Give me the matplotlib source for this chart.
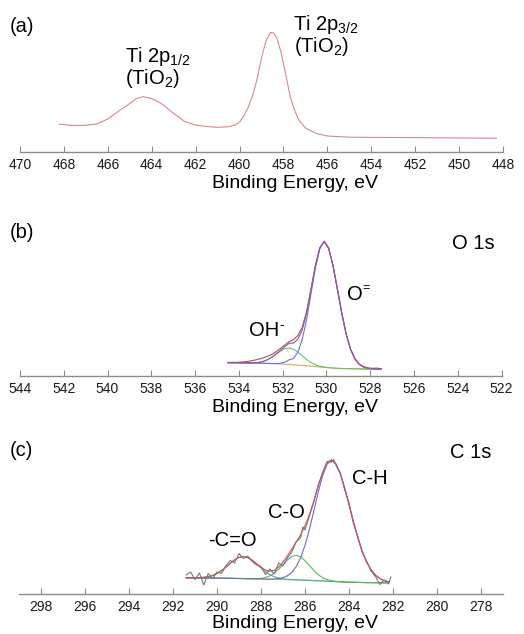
import matplotlib
matplotlib.use("Agg")
import matplotlib.pyplot as plt

W, H = 524, 634

# (a) Ti 2p survey, binding energy (eV) and intensity (arb.)
TI_BE = [468.2, 467.5, 467.0, 466.5, 466.0, 465.5, 465.0, 464.7, 464.4, 464.1,
         463.8, 463.5, 463.0, 462.5, 462.0, 461.5, 461.0, 460.5, 460.2, 460.0,
         459.8, 459.6, 459.4, 459.2, 459.0, 458.8, 458.6, 458.45, 458.3, 458.1,
         457.9, 457.7, 457.5, 457.3, 457.0, 456.5, 456.0, 455.0, 454.0, 452.0,
         450.0, 448.3]
TI_COUNTS = [27.7, 26.5, 26.8, 28.0, 33.0, 41.0, 48.5, 53.5, 55.3, 54.0,
             51.5, 47.5, 38.5, 30.5, 27.0, 25.5, 24.7, 25.3, 27.0, 30.0,
             36.0, 45.0, 57.0, 73.0, 94.0, 111.0, 119.5, 119.0, 114.0, 99.0,
             78.0, 56.0, 42.0, 32.0, 24.0, 18.5, 16.0, 14.8, 14.6, 14.4,
             14.0, 13.8]

# (b) O 1s
O_BE = [534.5, 534.3, 534.1, 533.9, 533.7, 533.5, 533.3, 533.1, 532.9, 532.7,
        532.5, 532.3, 532.1, 531.9, 531.7, 531.5, 531.3, 531.1, 530.9, 530.7,
        530.5, 530.3, 530.1, 529.9, 529.7, 529.5, 529.3, 529.1, 528.9, 528.7,
        528.5, 528.3, 528.1, 527.9, 527.7, 527.5]
O_BG = [13.3, 13.3, 13.2, 13.2, 13.1, 13.0, 12.9, 12.8, 12.7, 12.6,
        12.4, 12.2, 12.0, 11.8, 11.5, 11.2, 10.9, 10.6, 10.2, 9.8,
        9.4, 9.0, 8.6, 8.3, 8.0, 7.7, 7.5, 7.4, 7.3, 7.2,
        7.1, 7.0, 7.0, 7.0, 6.9, 6.9]
O_OH = [13.3, 13.3, 13.2, 13.2, 13.1, 13.1, 13.2, 13.6, 14.5, 16.2,
        18.6, 21.7, 24.9, 27.3, 28.0, 26.7, 23.8, 20.1, 16.4, 13.4,
        11.2, 9.8, 8.9, 8.4, 8.0, 7.7, 7.5, 7.4, 7.3, 7.2,
        7.1, 7.0, 7.0, 7.0, 6.9, 6.9]
O_OX = [13.3, 13.3, 13.2, 13.2, 13.1, 13.0, 12.9, 12.8, 12.7, 12.6,
        12.5, 12.5, 12.7, 13.8, 16.2, 17.5, 24.0, 37.0, 57.0, 83.0,
        108.5, 127.5, 134.6, 128.0, 110.6, 87.1, 62.9, 42.3, 27.1, 17.4,
        11.8, 9.0, 7.7, 7.3, 7.0, 6.9]
O_FIT = [13.3, 13.3, 13.2, 13.2, 13.1, 13.1, 13.2, 13.6, 14.5, 16.2,
         18.7, 22.0, 25.6, 29.3, 32.7, 33.0, 36.9, 46.5, 63.2, 86.6,
         110.3, 128.3, 134.9, 128.1, 110.6, 87.1, 62.9, 42.3, 27.1, 17.4,
         11.8, 9.0, 7.7, 7.3, 7.0, 6.9]
O_RAW = [13.5, 13.7, 13.6, 14.0, 14.3, 14.9, 15.8, 16.8, 18.0, 19.6,
         21.5, 24.3, 27.6, 31.0, 34.4, 36.5, 40.5, 49.0, 65.0, 87.5,
         111.0, 128.0, 134.3, 127.6, 110.2, 87.6, 63.4, 42.0, 26.6, 17.0,
         11.6, 9.3, 8.0, 7.7, 7.9, 7.4]

# (c) C 1s
C_BE = [291.4, 291.2, 291.0, 290.8, 290.6, 290.4, 290.2, 290.0, 289.8, 289.6,
        289.4, 289.2, 289.0, 288.8, 288.6, 288.4, 288.2, 288.0, 287.8, 287.6,
        287.4, 287.2, 287.0, 286.8, 286.6, 286.4, 286.2, 286.0, 285.8, 285.6,
        285.4, 285.2, 285.0, 284.8, 284.6, 284.4, 284.2, 284.0, 283.8, 283.6,
        283.4, 283.2, 283.0, 282.8, 282.6, 282.4, 282.2]
C_BG = [16.2, 16.2, 16.1, 16.1, 16.0, 16.0, 15.9, 15.9, 15.8, 15.8,
        15.7, 15.6, 15.5, 15.4, 15.3, 15.2, 15.1, 15.0, 14.9, 14.8,
        14.7, 14.6, 14.5, 14.4, 14.3, 14.2, 14.0, 13.8, 13.6, 13.4,
        13.2, 13.0, 12.8, 12.6, 12.4, 12.2, 12.0, 11.8, 11.7, 11.6,
        11.5, 11.4, 11.4, 11.3, 11.3, 11.2, 11.2]
C_COOH = [16.2, 16.2, 16.2, 16.4, 16.7, 17.4, 18.5, 20.5, 23.3, 26.8,
          30.6, 34.1, 36.6, 37.4, 36.4, 33.7, 30.0, 26.0, 22.4, 19.4,
          17.3, 16.0, 15.2, 14.7, 14.4, 14.2, 14.0, 13.8, 13.6, 13.4,
          13.2, 13.0, 12.8, 12.6, 12.4, 12.2, 12.0, 11.8, 11.7, 11.6,
          11.5, 11.4, 11.4, 11.3, 11.3, 11.2, 11.2]
C_CO = [16.2, 16.2, 16.1, 16.1, 16.0, 16.0, 15.9, 15.9, 15.8, 15.8,
        15.7, 15.6, 15.5, 15.4, 15.3, 15.3, 15.4, 15.7, 16.5, 18.1,
        20.8, 24.7, 29.4, 34.0, 37.5, 38.7, 37.2, 33.4, 28.5, 23.5,
        19.3, 16.3, 14.4, 13.3, 12.7, 12.3, 12.0, 11.8, 11.7, 11.6,
        11.5, 11.4, 11.4, 11.3, 11.3, 11.2, 11.2]
C_CH = [16.2, 16.2, 16.1, 16.1, 16.0, 16.0, 15.9, 15.9, 15.8, 15.8,
        15.7, 15.6, 15.5, 15.4, 15.3, 15.2, 15.1, 15.0, 14.9, 14.9,
        15.0, 15.4, 16.3, 18.2, 21.6, 27.4, 36.2, 48.6, 64.5, 82.9,
        101.8, 118.4, 129.7, 133.6, 130.1, 120.5, 106.3, 89.5, 72.3, 56.3,
        42.7, 32.0, 24.3, 18.9, 15.5, 13.4, 12.3]
C_FIT = [16.2, 16.2, 16.2, 16.4, 16.7, 17.4, 18.5, 20.5, 23.3, 26.8,
         30.6, 34.1, 36.6, 37.4, 36.4, 33.8, 30.3, 26.7, 24.0, 22.8,
         23.7, 26.9, 31.9, 38.1, 44.9, 51.9, 59.4, 68.2, 79.4, 93.0,
         107.9, 121.7, 131.3, 134.3, 130.4, 120.6, 106.3, 89.5, 72.3, 56.3,
         42.7, 32.0, 24.3, 18.9, 15.5, 13.4, 12.3]
C_RAW_BE = [291.4, 291.2, 291.0, 290.8, 290.6, 290.4, 290.2, 290.0, 289.8, 289.6,
            289.4, 289.2, 289.0, 288.8, 288.6, 288.4, 288.2, 288.0, 287.8, 287.6,
            287.4, 287.2, 287.0, 286.8, 286.6, 286.4, 286.2, 286.1, 286.0, 285.8,
            285.6, 285.4, 285.2, 285.0, 284.8, 284.7, 284.6, 284.4, 284.2, 284.0,
            283.8, 283.6, 283.4, 283.2, 283.0, 282.8, 282.6, 282.4, 282.2, 282.1]
C_RAW = [19.0, 22.0, 14.5, 21.0, 9.0, 20.5, 15.5, 22.0, 20.5, 28.0,
         33.5, 31.0, 40.5, 35.5, 38.0, 32.5, 29.0, 27.5, 19.5, 25.0,
         20.0, 31.0, 28.0, 36.0, 42.0, 52.5, 56.0, 67.0, 64.0, 78.0,
         92.0, 109.0, 120.5, 132.5, 132.0, 134.5, 129.0, 121.5, 104.5, 91.0,
         70.5, 57.5, 41.5, 33.0, 23.0, 17.5, 9.5, 14.0, 10.0, 17.0]

AXIS_GREY = "#8c8c8c"


def px(x: float, y: float) -> tuple[float, float]:
    return x / W, 1 - y / H


def make_axes(fig, left, right, bottom, top, xlim, ticks, ymax):
    ax = fig.add_axes([left / W, 1 - bottom / H, (right - left) / W, (bottom - top) / H])
    ax.set_xlim(*xlim)
    ax.set_ylim(0, ymax)
    for side in ("top", "left", "right"):
        ax.spines[side].set_visible(False)
    ax.spines["bottom"].set_color(AXIS_GREY)
    ax.spines["bottom"].set_linewidth(1.0)
    ax.set_yticks([])
    ax.set_xticks(ticks)
    ax.set_xticklabels([str(t) for t in ticks])
    ax.tick_params(axis="x", direction="in", length=4, width=0.8, color=AXIS_GREY,
                   labelsize=10, labelcolor="#1a1a1a", pad=4.5)
    ax.patch.set_alpha(0)
    return ax


def main() -> None:
    plt.rcParams.update({
        "font.family": ["Liberation Sans", "DejaVu Sans"],
        "mathtext.fontset": "custom",
        "mathtext.rm": "Liberation Sans",
        "mathtext.it": "Liberation Sans:italic",
        "mathtext.bf": "Liberation Sans:bold",
    })
    fig = plt.figure(figsize=(W / 100, H / 100), dpi=100)
    fig.patch.set_facecolor("white")
    lw = 0.8
    fs = 14.5

    # (a)
    ax = make_axes(fig, 20, 503, 152, 20, (470, 448), list(range(470, 447, -2)), 132)
    ax.plot(TI_BE, TI_COUNTS, color="#d88a8a", lw=lw, clip_on=False)
    fig.text(*px(10, 26), "(a)", fontsize=fs, va="center")
    fig.text(*px(125, 56), "Ti 2p$_\\mathrm{1/2}$", fontsize=fs, va="center")
    fig.text(*px(125, 79), "(TiO$_\\mathrm{2}$)", fontsize=fs, va="center")
    fig.text(*px(293, 24), "Ti 2p$_\\mathrm{3/2}$", fontsize=fs, va="center")
    fig.text(*px(294, 46), "(TiO$_\\mathrm{2}$)", fontsize=fs, va="center")
    fig.text(*px(295, 183), "Binding Energy, eV", fontsize=14, ha="center", va="center")

    # (b)
    ax = make_axes(fig, 20, 501.5, 376, 236, (544, 522), list(range(544, 521, -2)), 140)
    ax.plot(O_BE, O_BG, color="#c8b44a", lw=lw, clip_on=False)
    ax.plot(O_BE, O_OH, color="#6cc06c", lw=lw, clip_on=False)
    ax.plot(O_BE, O_OX, color="#7070d8", lw=lw, clip_on=False)
    ax.plot(O_BE, O_RAW, color="#b0504a", lw=lw, clip_on=False)
    ax.plot(O_BE, O_FIT, color="#8a5aa8", lw=lw, clip_on=False)
    fig.text(*px(10, 233), "(b)", fontsize=fs, va="center")
    fig.text(*px(473, 243), "O 1s", fontsize=fs, ha="center", va="center")
    fig.text(*px(347, 294), "O", fontsize=fs, va="center")
    fig.text(*px(362, 288), "=", fontsize=9, va="center")
    fig.text(*px(249, 331), "OH", fontsize=fs, va="center")
    fig.text(*px(279.5, 325), "-", fontsize=10, va="center")
    fig.text(*px(295, 407), "Binding Energy, eV", fontsize=14, ha="center", va="center")

    # (c)
    ax = make_axes(fig, 19, 503, 594, 454, (299, 277), list(range(298, 277, -2)), 140)
    ax.plot(C_BE, C_BG, color="#c8b44a", lw=lw, clip_on=False)
    ax.plot(C_BE, C_COOH, color="#48b0a8", lw=lw, clip_on=False)
    ax.plot(C_BE, C_CO, color="#5cb85c", lw=lw, clip_on=False)
    ax.plot(C_BE, C_CH, color="#6a6ad0", lw=lw, clip_on=False)
    ax.plot(C_RAW_BE, C_RAW, color="#7a7a7a", lw=lw, clip_on=False)
    ax.plot(C_BE, C_FIT, color="#c05858", lw=lw, clip_on=False)
    fig.text(*px(10, 450), "(c)", fontsize=fs, va="center")
    fig.text(*px(471, 452), "C 1s", fontsize=fs, ha="center", va="center")
    fig.text(*px(352, 478), "C-H", fontsize=fs, va="center")
    fig.text(*px(268, 513), "C-O", fontsize=fs, va="center")
    fig.text(*px(208, 541), "-C=O", fontsize=fs, va="center")
    fig.text(*px(295, 623), "Binding Energy, eV", fontsize=14, ha="center", va="center")

    fig.savefig("out.png", dpi=100, facecolor="white")
    plt.close(fig)


if __name__ == "__main__":
    main()
